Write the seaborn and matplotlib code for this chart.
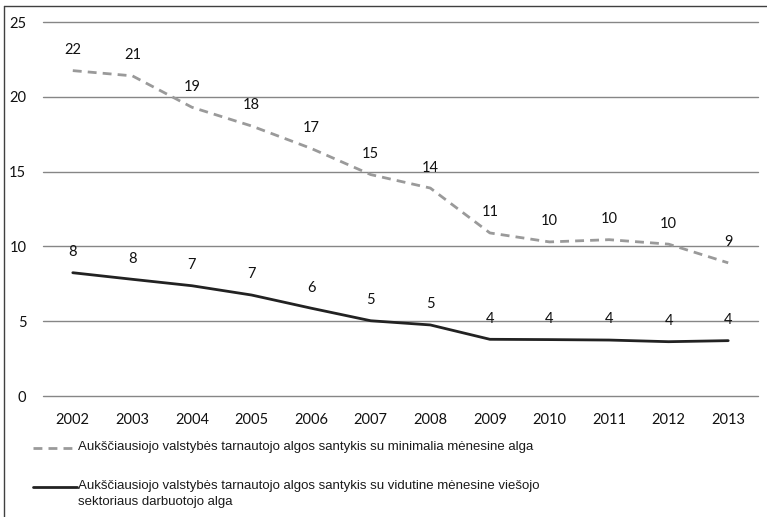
import matplotlib
matplotlib.use("Agg")
import matplotlib.pyplot as plt
from matplotlib.lines import Line2D
import seaborn as sns
import pandas as pd

# ---- data ----
years = ["2002", "2003", "2004", "2005", "2006", "2007",
         "2008", "2009", "2010", "2011", "2012", "2013"]
min_wage_ratio = [21.75, 21.4, 19.3, 18.05, 16.55, 14.8, 13.9, 10.9, 10.3, 10.45, 10.15, 8.9]
avg_wage_ratio = [8.24, 7.8, 7.37, 6.75, 5.87, 5.03, 4.75, 3.79, 3.77, 3.74, 3.63, 3.7]
series_names = [
    "Aukščiausiojo valstybės tarnautojo algos santykis su minimalia mėnesine alga",
    "Aukščiausiojo valstybės tarnautojo algos santykis su vidutine mėnesine viešojo\nsektoriaus darbuotojo alga",
]
y_ticks = [0, 5, 10, 15, 20, 25]

W, H = 767, 517
sns.set_theme(style="white")
plt.rcParams["font.family"] = ["Lato", "DejaVu Sans"]

df = pd.DataFrame({
    "year": years * 2,
    "value": min_wage_ratio + avg_wage_ratio,
    "series": [series_names[0]] * len(years) + [series_names[1]] * len(years),
})

colors = {series_names[0]: "#9a9a9a", series_names[1]: "#222222"}
dash_pat = (3.2, 2.2)
dashes = {series_names[0]: dash_pat, series_names[1]: ""}

fig = plt.figure(figsize=(W / 100, H / 100), dpi=100)
ax = fig.add_axes([43 / W, 1 - 396 / H, 715 / W, 374 / H])

sns.lineplot(data=df, x="year", y="value", hue="series", style="series",
             palette=colors, dashes=dashes, linewidth=2.0, sort=False,
             legend=False, ax=ax)

ax.set_xlim(-0.5, len(years) - 0.5)
ax.set_ylim(0, 25)
ax.set_yticks(y_ticks)
ax.set_xlabel("")
ax.set_ylabel("")
for s in ax.spines.values():
    s.set_visible(False)
ax.yaxis.grid(True, color="#868686", linewidth=1.0)
ax.xaxis.grid(False)
for gl in ax.get_ygridlines():
    gl.set_clip_on(False)
ax.set_axisbelow(True)
ax.tick_params(axis="both", length=0, labelsize=10.5, colors="#111111")
ax.tick_params(axis="x", pad=12)
ax.tick_params(axis="y", pad=12)

# data labels
for vals in (min_wage_ratio, avg_wage_ratio):
    for i, v in enumerate(vals):
        ax.annotate(f"{v:.0f}", (i, v), xytext=(0, 14.8), textcoords="offset points",
                    ha="center", va="center", fontsize=10.5, color="#111111")

# legend (drawn below the plot)
leg_font = ["Liberation Sans", "DejaVu Sans"]
# (handle y, text top y) in pixels from top
entries = [(447.7, 441.0), (486.5, 479.8)]
for name, (ly, ty) in zip(series_names, entries):
    ln = Line2D([33 / W, 77 / W], [1 - ly / H, 1 - ly / H], transform=fig.transFigure,
                color=colors[name], linewidth=2.0)
    if dashes[name]:
        ln.set_dashes(dashes[name])
    fig.add_artist(ln)
    fig.text(78 / W, 1 - ty / H, name, ha="left", va="top", fontsize=9.5,
             family=leg_font, color="#1a1a1a", linespacing=1.45)

# figure border (left and top)
fig.add_artist(Line2D([4 / W, 4 / W], [0, 1 - 6 / H], transform=fig.transFigure,
                      color="#404040", linewidth=1.0))
fig.add_artist(Line2D([4 / W, 1], [1 - 6 / H, 1 - 6 / H], transform=fig.transFigure,
                      color="#404040", linewidth=1.0))

fig.savefig("out.png", dpi=100)
